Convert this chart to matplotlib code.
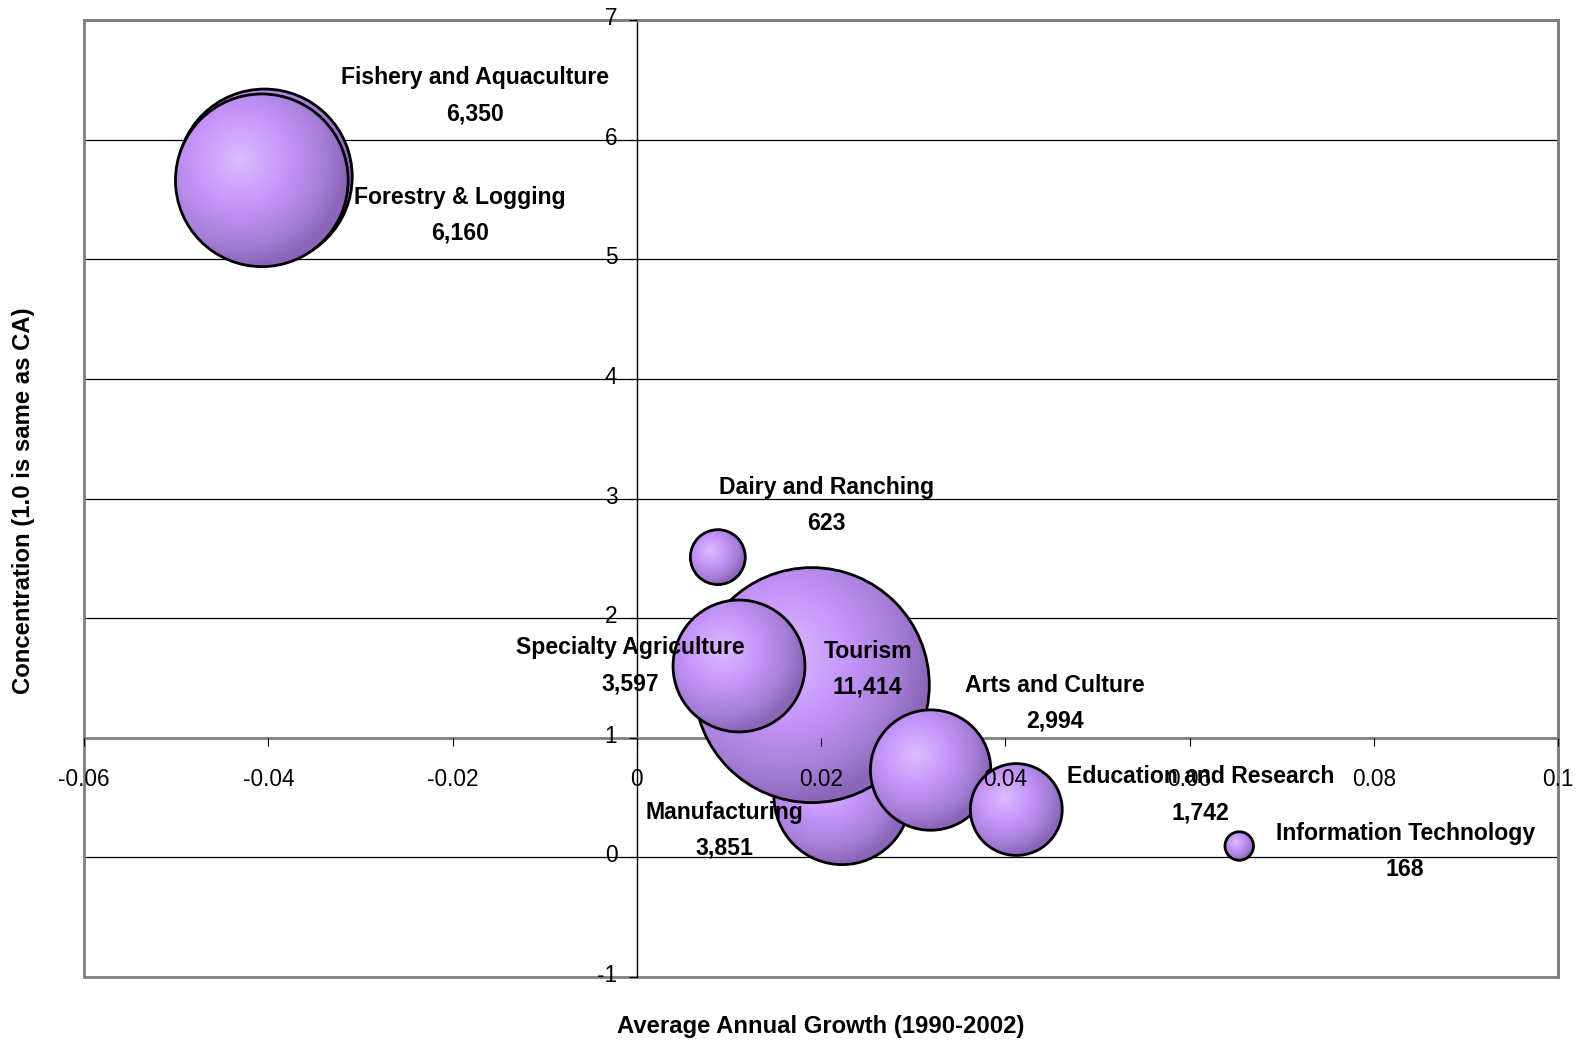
import numpy as np
import matplotlib
matplotlib.use("Agg")
import matplotlib.pyplot as plt
import matplotlib.transforms as mtransforms
from matplotlib.patches import Circle, Rectangle
from matplotlib.colors import LinearSegmentedColormap

# ---- data (draw order as in the original sheet) ----
industries = ["Fishery and Aquaculture", "Forestry & Logging", "Dairy and Ranching",
              "Manufacturing", "Tourism", "Specialty Agriculture",
              "Arts and Culture", "Education and Research", "Information Technology"]
growth = [-0.0404, -0.0407, 0.0088, 0.0223, 0.0190, 0.0111, 0.0319, 0.0412, 0.0654]
concentration = [5.69, 5.66, 2.51, 0.51, 1.44, 1.60, 0.73, 0.40, 0.095]
employment = [6350, 6160, 623, 3851, 11414, 3597, 2994, 1742, 168]

xticks = [-0.06, -0.04, -0.02, 0, 0.02, 0.04, 0.06, 0.08, 0.1]
xticklabels = ["-0.06", "-0.04", "-0.02", "0", "0.02", "0.04", "0.06", "0.08", "0.1"]
yticks = [-1, 0, 1, 2, 3, 4, 5, 6, 7]

# label block offsets from bubble centre, in pixels
label_offsets = [(210, 81), (198, -35), (109, 52), (-118, -34), (56, 16),
                 (-109, 0), (124, 67), (184, 15), (166, -5)]

FONT = "Liberation Sans"
BUBBLE_SCALE = 1.1  # px of radius per sqrt(employment)

fig = plt.figure(figsize=(15.81, 10.42), dpi=100)
ax = fig.add_axes((84 / 1581, 1 - 977 / 1042, 1474 / 1581, 957 / 1042))
ax.set_xlim(-0.06, 0.1)
ax.set_ylim(-1, 7)

# gradient used to fill each bubble
cmap = LinearSegmentedColormap.from_list(
    "bub", [(0, "#DDBBFF"), (0.45, "#C594FB"), (0.8, "#A57DD6"), (1.0, "#8A66B8")])
u = np.linspace(-1, 1, 300)
U, V = np.meshgrid(u, u)
dist = np.clip(np.hypot(U + 0.25, V - 0.25) / 1.25, 0, 1)
grad = cmap(dist)

for i in range(len(industries)):
    x, y, size = growth[i], concentration[i], employment[i]
    r = BUBBLE_SCALE * np.sqrt(size)
    tr = mtransforms.Affine2D().scale(r) + mtransforms.ScaledTranslation(x, y, ax.transData)
    z = 1 + i * 0.1
    im = ax.imshow(grad, extent=(-1, 1, -1, 1), origin="lower", aspect="auto",
                   interpolation="bilinear", zorder=z)
    im.set_transform(tr)
    clip = Circle((0, 0), 1, transform=tr, facecolor="none", edgecolor="none")
    ax.add_patch(clip)
    im.set_clip_path(clip)
    ax.add_patch(Circle((0, 0), 1, transform=tr, facecolor="none",
                        edgecolor="black", lw=2, zorder=z + 0.05))

    dx, dy = label_offsets[i]
    ax.annotate(industries[i], (x, y), xytext=(dx, dy + 18), textcoords="offset pixels",
                ha="center", va="center", fontsize=16.6, fontweight="bold",
                family=FONT, zorder=4)
    ax.annotate("{:,}".format(size), (x, y), xytext=(dx, dy - 18),
                textcoords="offset pixels", ha="center", va="center", fontsize=16.6,
                fontweight="bold", family=FONT, zorder=4)

ax.set_xlim(-0.06, 0.1)
ax.set_ylim(-1, 7)

# gridlines behind the bubbles
for yy in yticks:
    ax.axhline(yy, color="black", lw=0.9, zorder=0.5)

# axes crossing at x=0, y=1
ax.spines["left"].set_position(("data", 0))
ax.spines["left"].set_color("black")
ax.spines["left"].set_linewidth(1)
ax.spines["bottom"].set_position(("data", 1))
ax.spines["bottom"].set_color("#808080")
ax.spines["bottom"].set_linewidth(2)
for s in ["top", "right"]:
    ax.spines[s].set_color("#808080")
    ax.spines[s].set_linewidth(2)
for s in ax.spines.values():
    s.set_zorder(0.6)
ax.add_patch(Rectangle((0, 0), 1, 1, transform=ax.transAxes, fill=False,
                       edgecolor="#808080", lw=2, zorder=0.6, clip_on=False))

ax.set_xticks(xticks)
ax.set_xticklabels(xticklabels)
ax.set_yticks(yticks)
ax.set_yticklabels([str(t) for t in yticks])
ax.tick_params(axis="x", direction="out", length=6, width=0.8, pad=16, labelsize=16.3)
ax.tick_params(axis="y", direction="out", length=6, width=0.8, pad=8, labelsize=16.3)
for lab in ax.get_xticklabels() + ax.get_yticklabels():
    lab.set_family(FONT)
# Excel sits the value labels a little above their ticks
shift_up = mtransforms.ScaledTranslation(0, 4 / 100, fig.dpi_scale_trans)
for lab in ax.get_yticklabels():
    lab.set_transform(lab.get_transform() + shift_up)
ax.xaxis.set_zorder(5)
ax.yaxis.set_zorder(5)

fig.text((84 + 1558) / 2 / 1581, 1 - 1027 / 1042, "Average Annual Growth (1990-2002)",
         ha="center", va="center", fontsize=17.2, fontweight="bold", family=FONT)
fig.text(24 / 1581, 1 - 501 / 1042, "Concentration (1.0 is same as CA)",
         ha="center", va="center", rotation=90, fontsize=17.2, fontweight="bold",
         family=FONT)

fig.savefig("out.png", dpi=100)
